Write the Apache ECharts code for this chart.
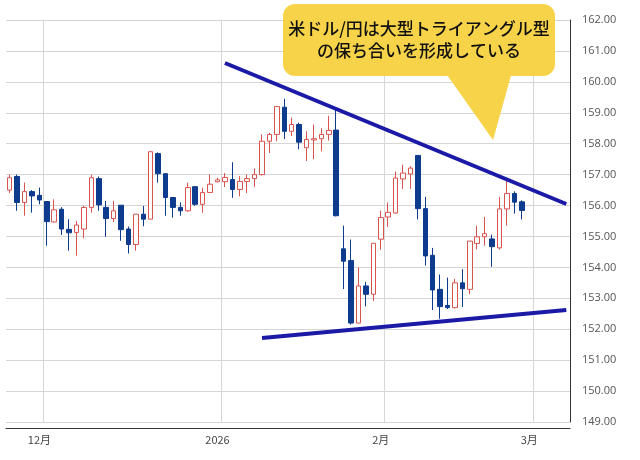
<!DOCTYPE html>
<html>
<head>
<meta charset="utf-8">
<script src="https://cdn.jsdelivr.net/npm/echarts@6/dist/echarts.min.js"></script>
<style>html,body{margin:0;padding:0;background:#fff}#main{width:640px;height:460px}</style>
</head>
<body>
<div id="main"></div>
<script>
// 日足 (始値, 終値, 安値, 高値)
var opens  = [156.5,156.94,156.1,156.45,156.33,156.13,155.47,155.88,155.23,155.13,155.24,155.94,156.87,155.94,155.58,156.01,155.24,154.74,155.72,155.56,157.68,157.03,156.26,155.94,155.83,156.61,156.04,156.42,156.77,156.77,156.84,156.52,156.78,156.87,157.0,158.08,158.3,159.18,158.4,158.62,157.87,158.12,158.16,158.3,158.44,154.6,154.22,152.2,153.4,153.13,154.91,155.63,155.76,156.86,157.02,157.62,155.9,154.39,153.29,152.77,152.7,153.5,153.29,154.77,154.99,154.92,154.63,155.89,156.39,156.12];
var closes = [156.9,156.1,156.45,156.31,156.18,155.48,155.86,155.24,155.12,155.37,155.94,156.9,156.02,155.58,155.83,155.22,154.74,155.72,155.56,157.74,157.03,156.26,155.94,155.83,156.58,156.04,156.42,156.69,156.83,156.91,156.52,156.78,156.87,157.0,158.08,158.3,159.2,158.4,158.62,158.05,158.14,158.16,158.3,158.43,155.67,154.2,152.2,153.4,153.13,154.78,155.61,155.78,156.89,157.05,157.21,155.9,154.37,153.27,152.73,152.7,153.5,153.31,154.85,154.99,155.09,154.67,155.89,156.39,156.11,155.84];
var lows   = [156.4,155.83,155.67,155.77,156.04,154.7,155.45,155.05,154.54,154.38,154.94,155.77,155.83,154.99,155.47,154.86,154.45,154.54,155.33,155.56,156.74,155.67,155.61,155.67,155.8,155.99,155.77,156.42,156.75,156.6,156.25,156.3,156.4,156.6,156.97,157.7,158.08,158.15,158.25,157.82,157.44,157.5,157.75,158.1,155.65,153.3,152.15,152.2,152.74,152.92,154.57,155.31,155.74,156.54,156.54,155.55,154.06,152.62,152.34,152.65,152.67,152.72,153.13,154.58,154.7,154.02,154.58,155.35,155.74,155.55];
var highs  = [157.0,157.0,156.74,156.5,156.58,156.13,156.2,155.95,155.56,155.5,155.99,157.0,156.94,156.15,156.15,156.01,155.32,155.72,155.99,157.76,157.72,157.03,156.26,156.1,156.74,156.61,156.58,157.01,156.9,157.05,157.4,156.95,157.0,157.2,158.3,158.35,159.2,159.45,158.84,158.68,158.4,158.62,158.5,158.9,159.1,155.35,154.9,154.0,153.53,154.78,155.83,156.1,157.1,157.32,157.27,157.62,156.28,154.63,153.77,153.67,153.63,153.94,154.85,155.35,155.63,155.06,156.28,156.84,156.46,156.17];

var slotCount = 76;
var tickIdx = [4, 28, 50, 70];
var tickLabels = ['12月', '2026', '2月', '3月'];
var splitIdx = [5, 29, 51, 71];

// トレンドライン [カテゴリ, 値]
var upperLine = [[29, 160.61], [75, 156.05]];
var lowerLine = [[34, 151.72], [75, 152.62]];

var cats = [];
for (var i = 0; i < slotCount; i++) cats.push(String(i));
var kdata = [];
for (var i = 0; i < opens.length; i++) kdata.push([opens[i], closes[i], lows[i], highs[i]]);

function seg(p) {
    return [{ coord: [String(p[0][0]), p[0][1]] }, { coord: [String(p[1][0]), p[1][1]] }];
}

var chart = echarts.init(document.getElementById('main'));
var option = {
    animation: false,
    grid: { left: 6, right: 70, top: 20, bottom: 38 },
    xAxis: {
        type: 'category',
        data: cats,
        boundaryGap: true,
        offset: 6,
        axisLine: { lineStyle: { color: '#333', width: 1 } },
        axisTick: { show: false },
        axisLabel: {
            interval: function (idx) { return tickIdx.indexOf(idx) >= 0; },
            formatter: function (v, idx) { var k = tickIdx.indexOf(Number(v)); return k >= 0 ? tickLabels[k] : ''; },
            color: '#444', fontSize: 11, margin: 6, fontFamily: 'Noto Sans CJK JP'
        },
        splitLine: {
            show: true,
            interval: function (idx) { return splitIdx.indexOf(idx) >= 0; },
            lineStyle: { color: '#d6d6d6' }
        }
    },
    yAxis: {
        type: 'value',
        position: 'right',
        min: 149, max: 162, interval: 1,
        axisLine: { show: true, lineStyle: { color: '#333' } },
        axisTick: { show: false },
        axisLabel: {
            formatter: function (v) { return v.toFixed(2); },
            color: '#555', fontSize: 11, margin: 12, fontFamily: 'Open Sans'
        },
        splitLine: { lineStyle: { color: '#d6d6d6' } }
    },
    series: [{
        type: 'candlestick',
        data: kdata,
        barWidth: 5,
        itemStyle: {
            color: '#ffffff', borderColor: '#d9534f',
            color0: '#0d3b8e', borderColor0: '#0d3b8e', borderWidth: 1
        },
        markLine: {
            silent: true,
            symbol: ['none', 'none'],
            label: { show: false },
            lineStyle: { color: '#1a1aa6', width: 4, type: 'solid' },
            data: [seg(upperLine), seg(lowerLine)]
        }
    }],
    graphic: [
        {
            type: 'polygon', z: 100,
            shape: { points: [[445, 72], [512, 72], [493, 140]] },
            style: { fill: '#f6d348' }
        },
        {
            type: 'rect', z: 100,
            shape: { x: 283, y: 4, width: 272, height: 72, r: 12 },
            style: { fill: '#f6d348' }
        },
        {
            type: 'text', z: 101, x: 419, y: 40,
            style: {
                text: '米ドル/円は大型トライアングル型\nの保ち合いを形成している',
                font: '500 17px "Noto Sans CJK JP"', fill: '#111',
                textAlign: 'center', textVerticalAlign: 'middle', lineHeight: 22
            }
        }
    ]
};
chart.setOption(option);
</script>
</body>
</html>
